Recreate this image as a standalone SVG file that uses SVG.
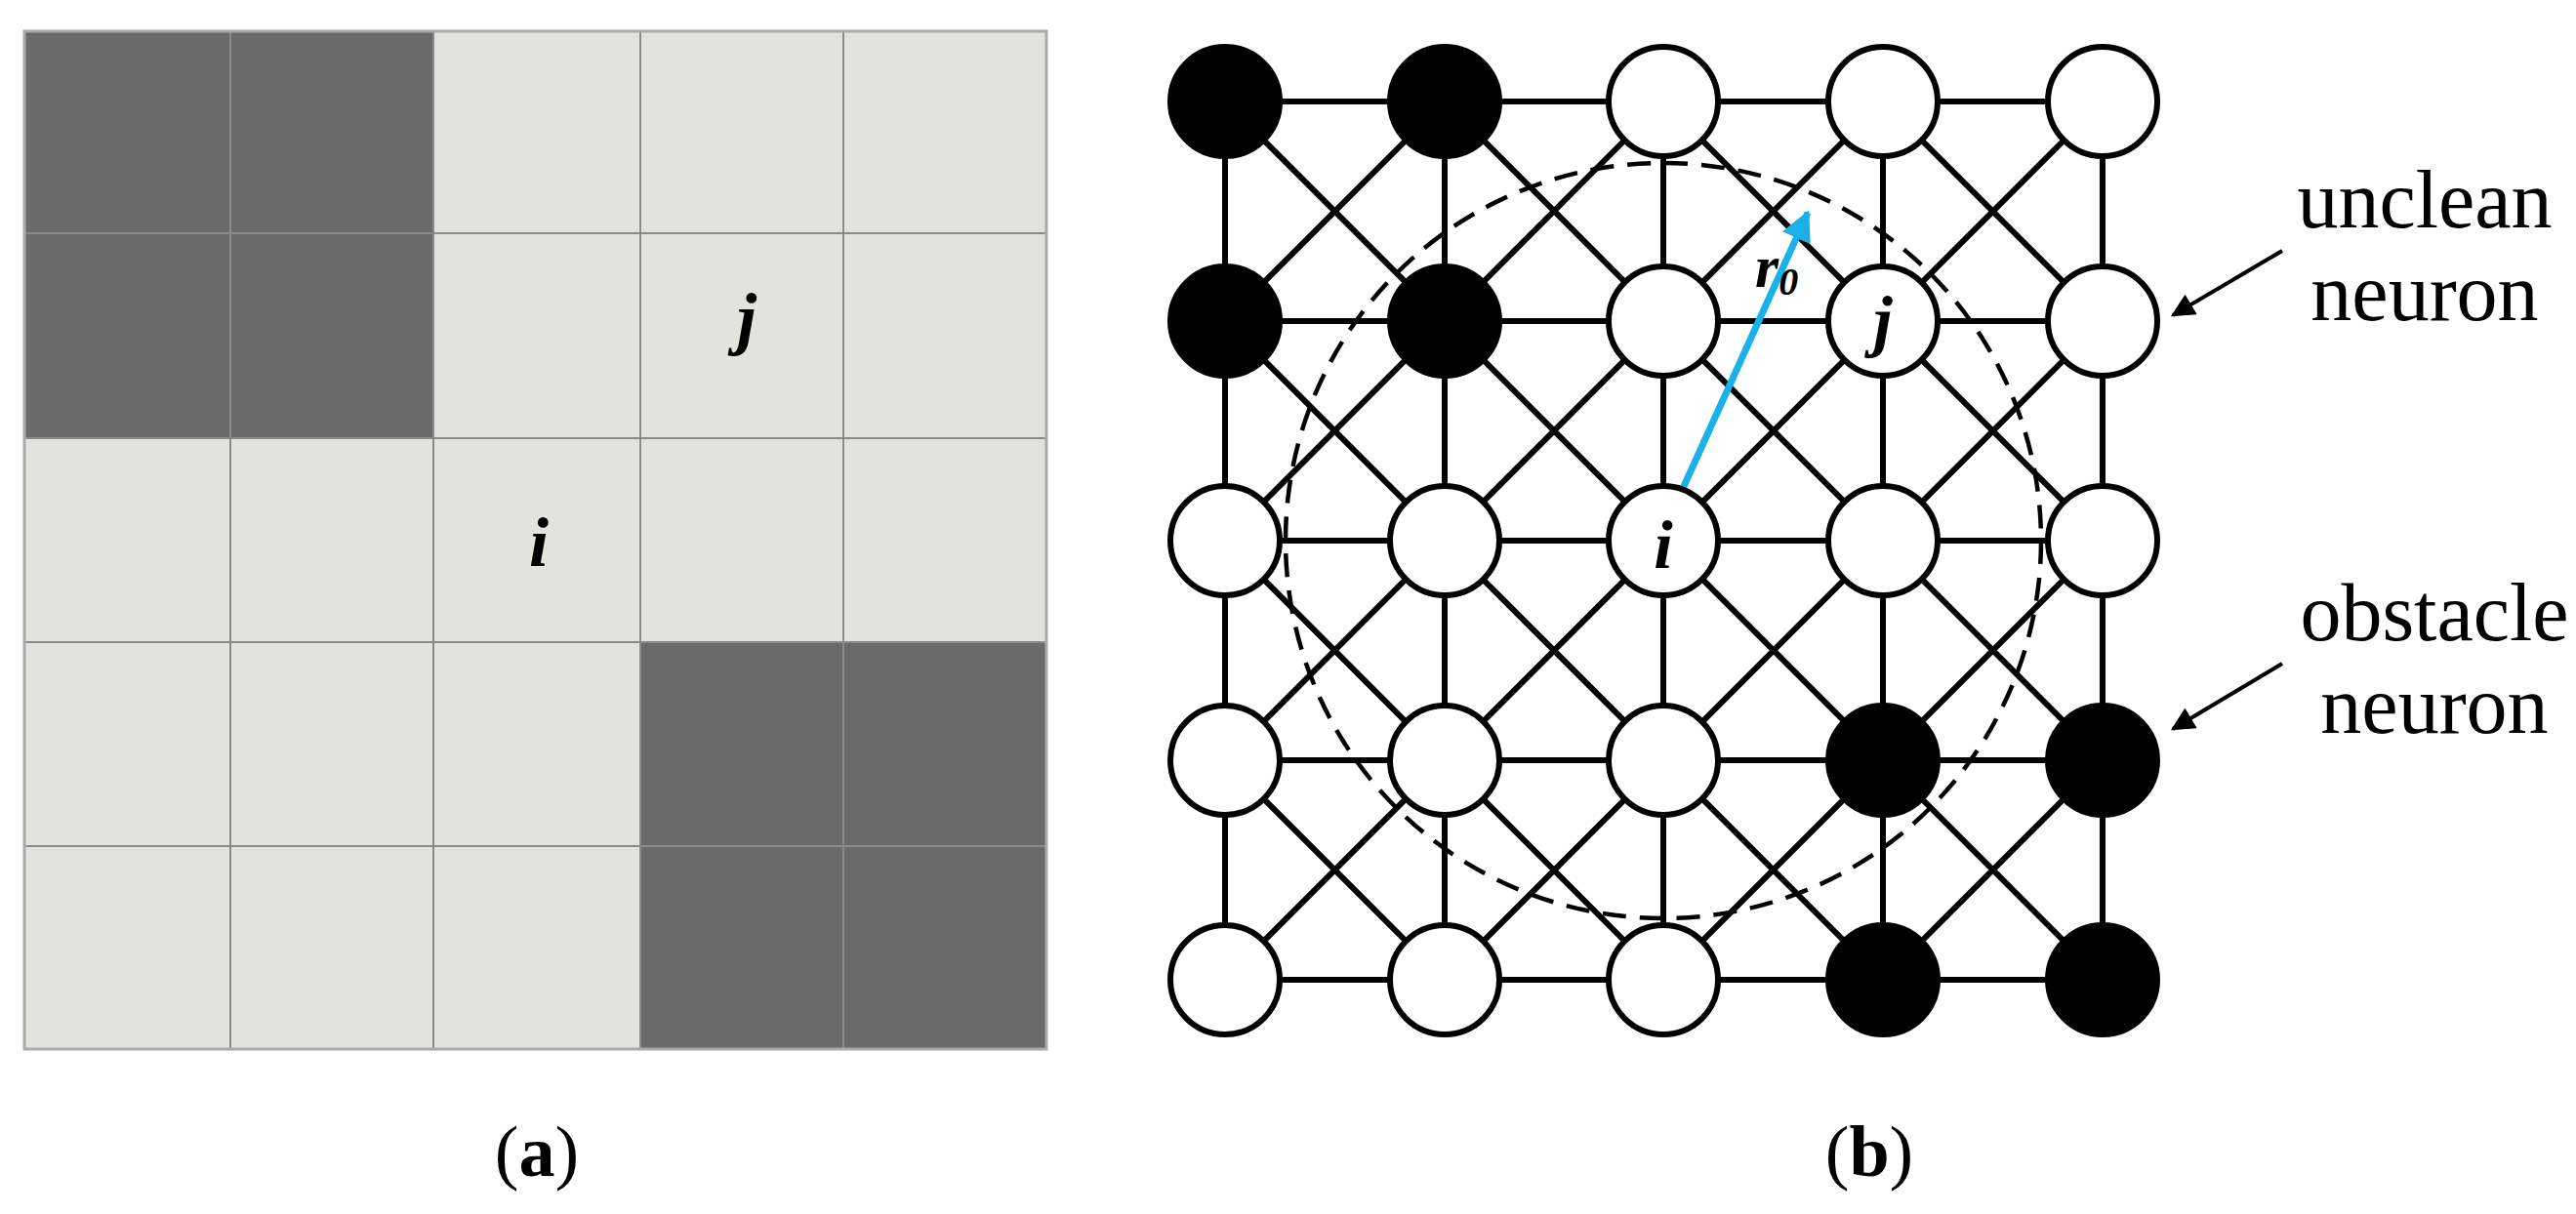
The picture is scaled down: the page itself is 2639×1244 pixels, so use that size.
<svg xmlns="http://www.w3.org/2000/svg" width="2639" height="1244" viewBox="0 0 2639 1244">
<style>
.lt{fill:#e3e3de}.dk{fill:#6a6a6a}
.gl{stroke:#8a8a8a;stroke-width:2;fill:none}
.e{stroke:#000;stroke-width:6}
.n{fill:#fff;stroke:#000;stroke-width:6}
.b{fill:#000;stroke:#000;stroke-width:6}
.it{font-family:"Liberation Serif",serif;font-style:italic;font-weight:bold}
.lb{font-family:"Liberation Serif",serif;font-size:84px;text-anchor:middle}
.cap{font-family:"Liberation Serif",serif;font-size:74px;text-anchor:middle}
</style>
<defs>
<marker id="ah" viewBox="0 0 10 10" refX="9" refY="5" markerWidth="7" markerHeight="6" orient="auto" markerUnits="strokeWidth"><path d="M0,0L10,5L0,10z" fill="#000"/></marker>
<marker id="bh" viewBox="0 0 10 10" refX="9" refY="5" markerWidth="4.5" markerHeight="4.5" orient="auto" markerUnits="strokeWidth"><path d="M0,0L10,5L0,10z" fill="#1ab0e8"/></marker>
</defs>
<rect width="2639" height="1244" fill="#fff"/>
<g id="panel-a">
<rect class="lt" x="25" y="32" width="1047" height="1043"/>
<rect class="dk" x="25" y="32" width="419" height="417"/>
<rect class="dk" x="656" y="658" width="416" height="417"/>
<path class="gl" d="M236 32V1075M444 32V1075M656 32V1075M864 32V1075M25 239H1072M25 449H1072M25 658H1072M25 867H1072"/>
<rect x="25" y="32" width="1047" height="1043" fill="none" stroke="#aaa" stroke-width="3"/>
<text class="it" x="765" y="350" font-size="72" text-anchor="middle">j</text>
<text class="it" x="552" y="580" font-size="72" text-anchor="middle">i</text>
<text class="cap" x="550" y="1205">(<tspan font-weight="bold">a</tspan>)</text>
</g>
<g id="connectors">
<path class="e" d="M1255 104H2154M1255 329H2154M1255 554H2154M1255 779H2154M1255 1004H2154M1255 104V1004M1480 104V1004M1704 104V1004M1929 104V1004M2154 104V1004"/>
<path class="e" d="M1255 104L2154 1004M1255 329L1929 1004M1255 554L1704 1004M1255 779L1480 1004M1480 104L2154 779M1704 104L2154 554M1929 104L2154 329"/>
<path class="e" d="M2154 104L1255 1004M1929 104L1255 779M1704 104L1255 554M1480 104L1255 329M2154 329L1480 1004M2154 554L1704 1004M2154 779L1929 1004"/>
<circle cx="1704" cy="554" r="387" fill="none" stroke="#000" stroke-width="4.5" stroke-dasharray="24 14"/>
<line x1="1707" y1="538" x2="1852" y2="218" stroke="#1ab0e8" stroke-width="7" marker-end="url(#bh)"/>
<line x1="2338" y1="257" x2="2226" y2="323" stroke="#000" stroke-width="4" marker-end="url(#ah)"/>
<line x1="2338" y1="680" x2="2226" y2="747" stroke="#000" stroke-width="4" marker-end="url(#ah)"/>
</g>
<g id="nodes">
<circle id="n00" class="b" cx="1255" cy="104" r="56"/><circle id="n10" class="b" cx="1480" cy="104" r="56"/><circle id="n20" class="n" cx="1704" cy="104" r="56"/><circle id="n30" class="n" cx="1929" cy="104" r="56"/><circle id="n40" class="n" cx="2154" cy="104" r="56"/>
<circle id="n01" class="b" cx="1255" cy="329" r="56"/><circle id="n11" class="b" cx="1480" cy="329" r="56"/><circle id="n21" class="n" cx="1704" cy="329" r="56"/>
<g id="node-j"><circle class="n" cx="1929" cy="329" r="56"/><text class="it" x="1929" y="352" font-size="70" text-anchor="middle">j</text></g>
<circle id="n41" class="n" cx="2154" cy="329" r="56"/>
<circle id="n02" class="n" cx="1255" cy="554" r="56"/><circle id="n12" class="n" cx="1480" cy="554" r="56"/>
<g id="node-i"><circle class="n" cx="1704" cy="554" r="56"/><text class="it" x="1704" y="582" font-size="70" text-anchor="middle">i</text></g>
<circle id="n32" class="n" cx="1929" cy="554" r="56"/><circle id="n42" class="n" cx="2154" cy="554" r="56"/>
<circle id="n03" class="n" cx="1255" cy="779" r="56"/><circle id="n13" class="n" cx="1480" cy="779" r="56"/><circle id="n23" class="n" cx="1704" cy="779" r="56"/><circle id="n33" class="b" cx="1929" cy="779" r="56"/><circle id="n43" class="b" cx="2154" cy="779" r="56"/>
<circle id="n04" class="n" cx="1255" cy="1004" r="56"/><circle id="n14" class="n" cx="1480" cy="1004" r="56"/><circle id="n24" class="n" cx="1704" cy="1004" r="56"/><circle id="n34" class="b" cx="1929" cy="1004" r="56"/><circle id="n44" class="b" cx="2154" cy="1004" r="56"/>
</g>
<g id="labels">
<text class="it" x="1798" y="294" font-size="62">r<tspan font-size="40" dy="8">0</tspan></text>
<text class="lb" x="2484" y="233">unclean</text>
<text class="lb" x="2484" y="328">neuron</text>
<text class="lb" x="2494" y="656">obstacle</text>
<text class="lb" x="2494" y="751">neuron</text>
<text class="cap" x="1915" y="1205">(<tspan font-weight="bold">b</tspan>)</text>
</g>
</svg>
